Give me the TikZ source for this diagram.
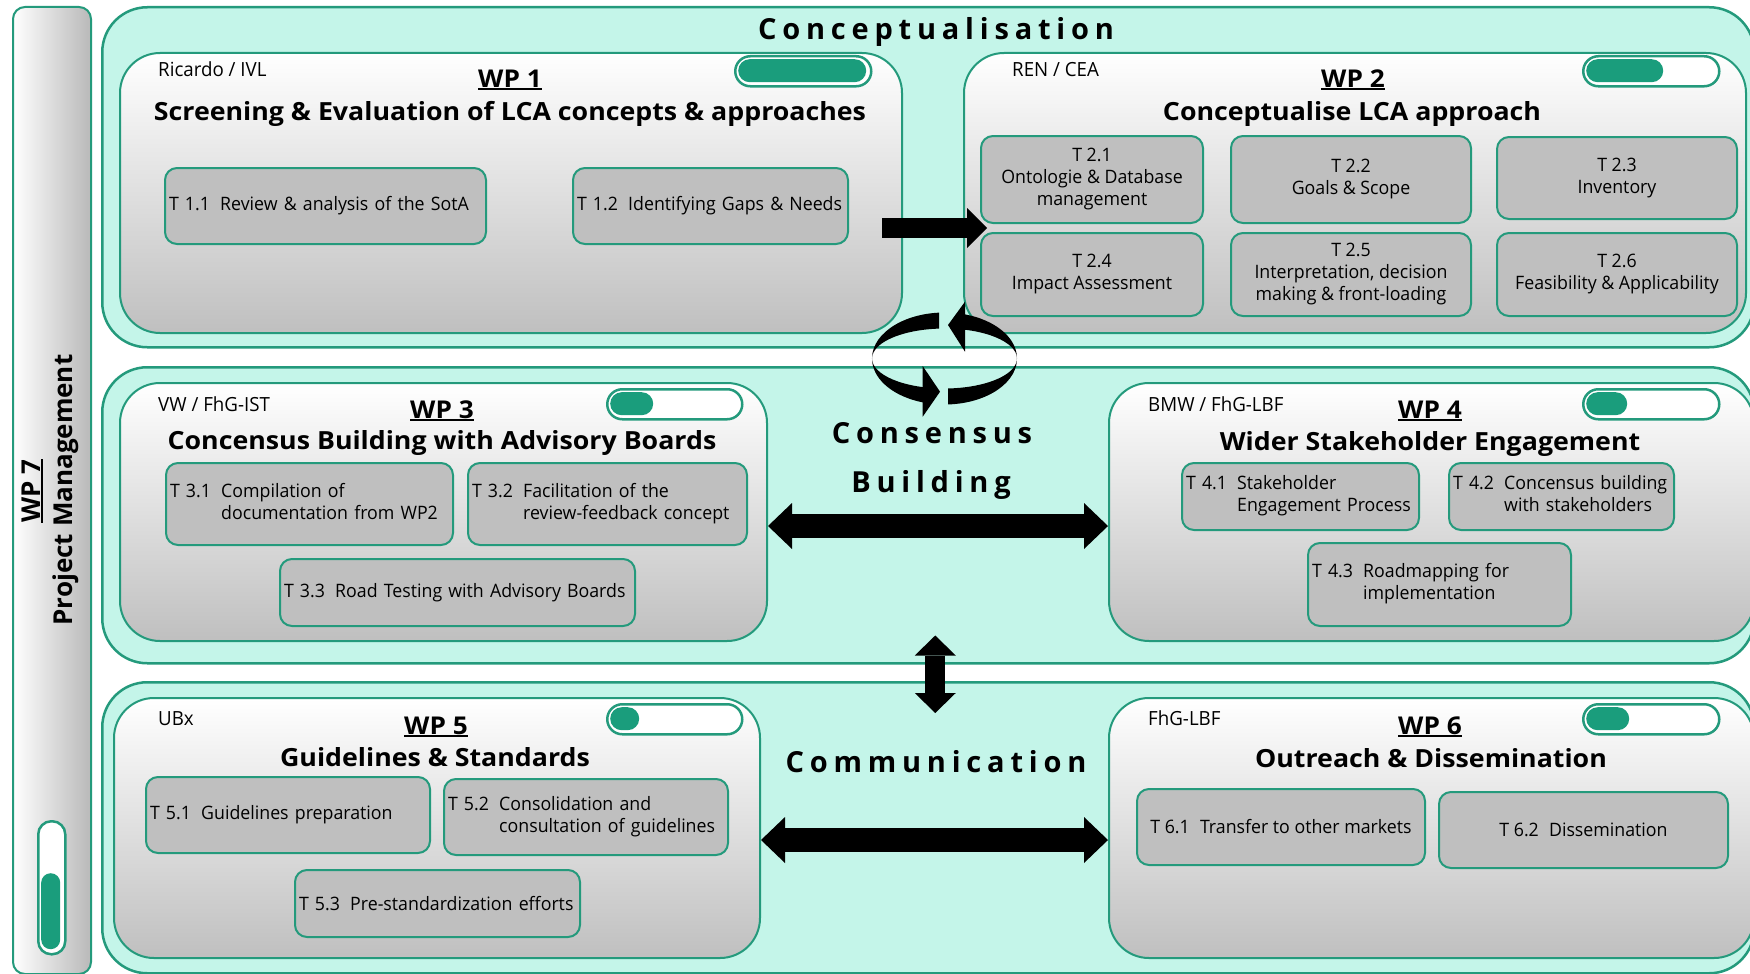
\documentclass[tikz,border=0pt]{standalone}
\usepackage{fontspec}
\setmainfont{Open Sans}[FakeStretch=0.96]
\newfontfamily\headfont{Open Sans}[FakeStretch=1.07]
\newfontfamily\pmfont{Open Sans}
\newfontfamily\bandfont{Open Sans}[LetterSpace=20]
\usetikzlibrary{calc,arrows.meta}

\definecolor{mint}{RGB}{196,245,233}
\definecolor{wpgreen}{RGB}{36,154,124}
\definecolor{barfill}{RGB}{26,157,124}
\definecolor{taskgray}{RGB}{191,191,191}

% text with a fixed rule just below the baseline
\newcommand\wpline[1]{\setbox0\hbox{#1}\rlap{\rule[-3.2pt]{\wd0}{1.8pt}}\box0}
% task label with a hanging second line
\newcommand\tasktwo[3]{\begin{tabular}{@{}l@{\hspace{0.55em}}l@{}}#1&#2\\&#3\end{tabular}}
\newcommand\taskone[2]{\mbox{#1\hspace{0.55em}#2}}

\begin{document}
\begin{tikzpicture}[x=1pt,y=1pt,
  band/.style={draw=wpgreen,line width=2.5pt,fill=mint,rounded corners=45pt,anchor=north west,inner sep=0pt},
  wpbox/.style={draw=wpgreen,line width=2pt,top color=white,bottom color=gray!50,rounded corners=40pt,anchor=north west,inner sep=0pt},
  sidebar/.style={draw=wpgreen,line width=2pt,left color=white,right color=gray!55,rounded corners=12pt,anchor=north west,inner sep=0pt},
  task/.style={draw=wpgreen,line width=2pt,fill=taskgray,rounded corners=12pt,anchor=north west,inner xsep=4pt,inner ysep=0pt,font=\fontsize{18.5}{22}\selectfont},
  taskl/.style={task,align=left},
  taskc/.style={task,align=center},
  partner/.style={anchor=base west,inner sep=0pt,font=\fontsize{19.5}{23}\selectfont},
  wplabel/.style={anchor=base,inner sep=0pt,font=\headfont\bfseries\fontsize{24.5}{30}\selectfont},
  wptitle/.style={anchor=base,inner sep=0pt,font=\headfont\bfseries\fontsize{25}{30}\selectfont},
  phase/.style={anchor=base,inner sep=0pt,font=\bandfont\bfseries\fontsize{29}{34}\selectfont},
  pmlabel/.style={anchor=base,inner sep=0pt,rotate=90,font=\pmfont\bfseries\fontsize{26}{30}\selectfont},
  pbar/.style={draw=wpgreen,line width=2.5pt,fill=white,rounded corners=15pt,anchor=north west,inner sep=0pt,minimum height=30pt},
  pfill/.style={fill=barfill,rounded corners=11.5pt,anchor=north west,inner sep=0pt,minimum height=23pt},
  fwdarrow/.style={line width=20pt,arrows={-Triangle[width=40pt,length=20pt,line width=0pt]}},
  widearrow/.style={line width=24pt,arrows={Triangle[width=46pt,length=24pt,line width=0pt]-Triangle[width=46pt,length=24pt,line width=0pt]}},
  vertarrow/.style={line width=20pt,arrows={Triangle[width=41pt,length=20pt,line width=0pt]-Triangle[width=41pt,length=20pt,line width=0pt]}}
]
\useasboundingbox (0,0) rectangle (1750,-974);
\fill[white] (0,0) rectangle (1750,-974);

% phase bands
\node[band,minimum width=1652pt,minimum height=340pt] (b1) at (101,-6) {};
\node[band,minimum width=1652pt,minimum height=296pt] (b2) at (101,-366) {};
\node[band,minimum width=1652pt,minimum height=291pt] (b3) at (101,-681) {};

% project management side bar
\node[sidebar,minimum width=78pt,minimum height=967pt] (wp7box) at (12,-6) {};
\node[pmlabel] (wp7) at (40,-491) {\wpline{WP 7}};
\node[pmlabel] (wp7title) at (72,-490) {Project Management};
\node[draw=wpgreen,line width=2.5pt,fill=white,rounded corners=13pt,anchor=north west,inner sep=0pt,minimum width=27pt,minimum height=133pt] (p7) at (37,-820) {};
\node[fill=barfill,rounded corners=9.5pt,anchor=north west,inner sep=0pt,minimum width=19pt,minimum height=76pt] (p7f) at (41,-873) {};

% work package boxes
\node[wpbox,minimum width=782pt,minimum height=280pt] (wp1) at (119,-52) {};
\node[wpbox,minimum width=782pt,minimum height=280pt] (wp2) at (963,-52) {};
\node[wpbox,minimum width=647pt,minimum height=258pt] (wp3) at (119,-382) {};
\node[wpbox,minimum width=645pt,minimum height=258pt] (wp4) at (1108,-382) {};
\node[wpbox,minimum width=646pt,minimum height=260pt] (wp5) at (113,-697) {};
\node[wpbox,minimum width=645pt,minimum height=260pt] (wp6) at (1108,-697) {};

% progress bars
\node[pbar,minimum width=136pt] (p1) at (734,-55) {};
\node[pfill,minimum width=128pt] (p1f) at (738,-59) {};
\node[pbar,minimum width=136pt] (p2) at (1582,-55) {};
\node[pfill,minimum width=77pt] (p2f) at (1586,-59) {};
\node[pbar,minimum width=135pt] (p3) at (606,-388) {};
\node[pfill,minimum width=43pt] (p3f) at (610,-392) {};
\node[pbar,minimum width=136pt] (p4) at (1582,-388) {};
\node[pfill,minimum width=41pt] (p4f) at (1586,-392) {};
\node[pbar,minimum width=135pt] (p5) at (606,-703) {};
\node[pfill,minimum width=29pt] (p5f) at (610,-707) {};
\node[pbar,minimum width=136pt] (p6) at (1582,-703) {};
\node[pfill,minimum width=43pt] (p6f) at (1586,-707) {};

% headers
\node[partner] (pa1) at (158,-77) {Ricardo / IVL};
\node[wplabel] (l1) at (510,-87) {\wpline{WP 1}};
\node[wptitle] (h1) at (510,-120) {Screening \& Evaluation of LCA concepts \& approaches};
\node[partner] (pa2) at (1012,-77) {REN / CEA};
\node[wplabel] (l2) at (1353,-87) {\wpline{WP 2}};
\node[wptitle] (h2) at (1352,-120) {Conceptualise LCA approach};
\node[partner] (pa3) at (158,-411) {VW / FhG-IST};
\node[wplabel] (l3) at (442,-418) {\wpline{WP 3}};
\node[wptitle] (h3) at (442,-449) {Concensus Building with Advisory Boards};
\node[partner] (pa4) at (1148,-411) {BMW / FhG-LBF};
\node[wplabel] (l4) at (1430,-418) {\wpline{WP 4}};
\node[wptitle] (h4) at (1430,-450) {Wider Stakeholder Engagement};
\node[partner] (pa5) at (158,-725) {UBx};
\node[wplabel] (l5) at (436,-734) {\wpline{WP 5}};
\node[wptitle] (h5) at (435,-766) {Guidelines \& Standards};
\node[partner] (pa6) at (1148,-725) {FhG-LBF};
\node[wplabel] (l6) at (1430,-734) {\wpline{WP 6}};
\node[wptitle] (h6) at (1431,-767) {Outreach \& Dissemination};

% tasks WP1
\node[taskl,text width=313pt,minimum height=76pt] (t11) at (164,-167) {\taskone{T 1.1}{Review \& analysis of the SotA}};
\node[taskl,text width=267pt,minimum height=76pt] (t12) at (572,-167) {\taskone{T 1.2}{Identifying Gaps \& Needs}};
% tasks WP2
\node[taskc,minimum width=222pt,minimum height=87pt] (t21) at (980,-135) {T 2.1\\Ontologie \& Database\\management};
\node[taskc,minimum width=240pt,minimum height=87pt] (t22) at (1230,-135) {T 2.2\\Goals \& Scope};
\node[taskc,minimum width=240pt,minimum height=82pt] (t23) at (1496,-136) {T 2.3\\Inventory};
\node[taskc,minimum width=222pt,minimum height=83pt] (t24) at (980,-232) {T 2.4\\Impact Assessment};
\node[taskc,minimum width=240pt,minimum height=83pt] (t25) at (1230,-232) {T 2.5\\Interpretation, decision\\making \& front-loading};
\node[taskc,minimum width=240pt,minimum height=83pt] (t26) at (1496,-232) {T 2.6\\Feasibility \& Applicability};
% tasks WP3
\node[taskl,text width=279pt,minimum height=82pt] (t31) at (165,-462) {\tasktwo{T 3.1}{Compilation of}{documentation from WP2}};
\node[taskl,text width=271pt,minimum height=82pt] (t32) at (467,-462) {\tasktwo{T 3.2}{Facilitation of the}{review-feedback concept}};
\node[taskl,text width=347pt,minimum height=67pt] (t33) at (279,-558) {\taskone{T 3.3}{Road Testing with Advisory Boards}};
% tasks WP4
\node[taskl,text width=229pt,minimum height=67pt] (t41) at (1181,-462) {\tasktwo{T 4.1}{Stakeholder}{Engagement Process}};
\node[taskl,text width=217pt,minimum height=67pt] (t42) at (1448,-462) {\tasktwo{T 4.2}{Concensus building}{with stakeholders}};
\node[taskl,text width=255pt,minimum height=83pt] (t43) at (1307,-542) {\tasktwo{T 4.3}{Roadmapping for}{implementation}};
% tasks WP5
\node[taskl,text width=276pt,minimum height=76pt] (t51) at (145,-776) {\taskone{T 5.1}{Guidelines preparation}};
\node[taskl,text width=276pt,minimum height=76pt] (t52) at (443,-778) {\tasktwo{T 5.2}{Consolidation and}{consultation of guidelines}};
\node[taskl,text width=277pt,minimum height=67pt] (t53) at (294,-869) {\taskone{T 5.3}{Pre-standardization efforts}};
% tasks WP6
\node[taskc,minimum width=288pt,minimum height=76pt] (t61) at (1136,-788) {\taskone{T 6.1}{Transfer to other markets}};
\node[taskc,minimum width=289pt,minimum height=76pt] (t62) at (1438,-791) {\taskone{T 6.2}{Dissemination}};

% phase labels
\node[phase] (ph1) at (936,-40) {Conceptualisation};
\node[phase] (ph2a) at (932,-443) {Consensus};
\node[phase] (ph2b) at (931,-492) {Building};
\node[phase] (ph3) at (936,-772) {Communication};

% flow arrows
\draw[fwdarrow] ($(wp1.east)+(-21,-35)$) -- ($(t21.south west)!0.5!(t24.north west)+(7,0)$);
\draw[widearrow] ([yshift=-14pt]wp3.east) -- ([yshift=-14pt]wp4.west);
\draw[vertarrow] ($(b2.south)+(7,29)$) -- ($(b3.north)+(7,-32)$);
\draw[widearrow] ([yshift=-12pt]wp5.east) -- ([yshift=-12pt]wp6.west);

% rotating consensus symbol
\coordinate (cyc) at (944.5,-358.5);
\fill ($(cyc)+(94.3:72.5 and 46)$) arc[start angle=94.3,end angle=252.75,x radius=72.5,y radius=46]
  -- ($(cyc)+(252.75:72.5 and 30)$) arc[start angle=252.75,end angle=94.3,x radius=72.5,y radius=30] -- cycle;
\fill (922.7,-366) -- (940,-391.7) -- (922.7,-416.7) -- cycle;
\fill ($(cyc)+(272.8:72.5 and 46)$) arc[start angle=272.8,end angle=433.6,x radius=72.5,y radius=46]
  -- ($(cyc)+(433.6:72.5 and 30)$) arc[start angle=433.6,end angle=272.8,x radius=72.5,y radius=30] -- cycle;
\fill (965,-301.7) -- (948,-325) -- (965,-351.7) -- cycle;
\end{tikzpicture}
\end{document}
